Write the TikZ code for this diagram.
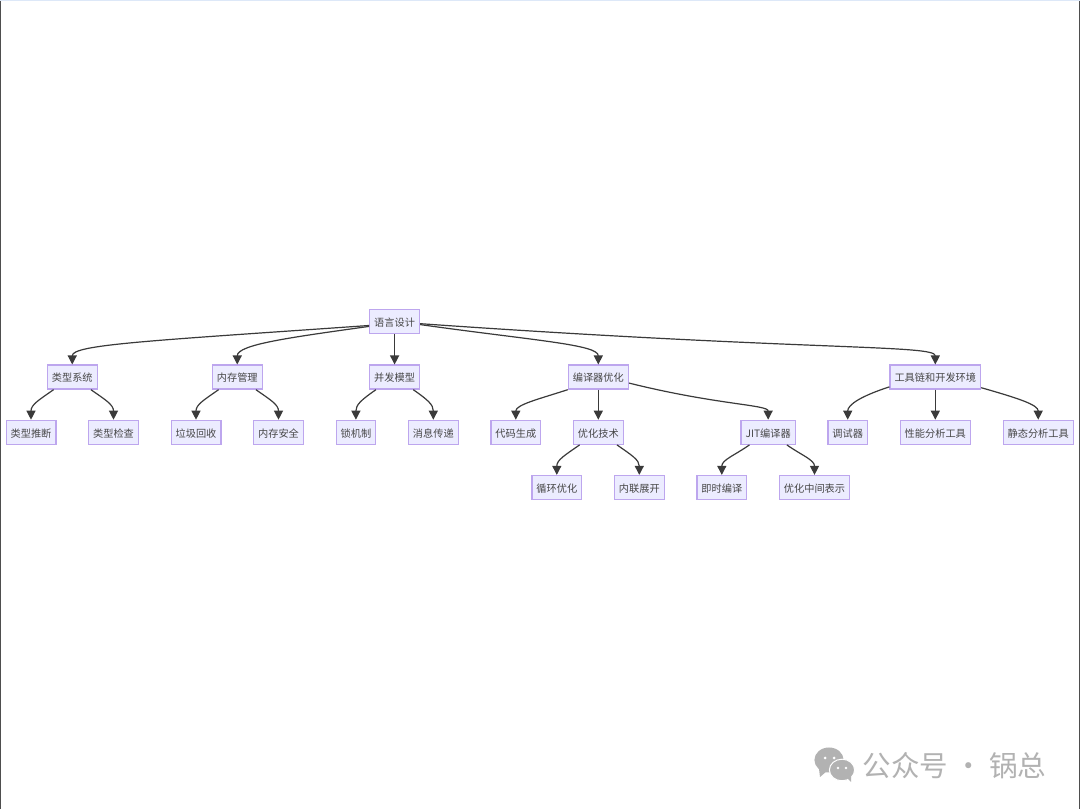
\documentclass[tikz,border=0pt]{standalone}
\usepackage{fontspec}
\setmainfont{Noto Sans CJK SC}
\usepackage{xcolor}
\usetikzlibrary{arrows.meta, positioning, calc}
\definecolor{boxfill}{HTML}{ECECFF}
\definecolor{boxline}{HTML}{BDA6EE}
\definecolor{inkline}{HTML}{3A3A3A}
\definecolor{markgray}{HTML}{B2B2B2}
\definecolor{topline}{HTML}{DDE8F8}

\begin{document}
\begin{tikzpicture}[
        x=1pt, y=1pt,
        node distance=30pt and 31.5pt,
        box/.style={rectangle, draw=boxline, fill=boxfill, line width=1.2pt, minimum height=24pt, inner xsep=4.5pt, inner ysep=0pt, text height=9.5pt, text depth=0pt, text=black!72, font=\fontsize{10.2}{12}\selectfont},
        arrowline/.style={-{Triangle[length=9pt, width=9pt]}, line width=1.2pt, draw=inkline},
        farleft/.style={out=#1, in=90, in distance=20pt},
        sidestep/.style={out=#1, in=90, out distance=18pt, in distance=15pt}
    ]
        \useasboundingbox (0,0) rectangle (1080,809);
        \fill[white] (0,0) rectangle (1080,809);
        \draw[inkline!90, line width=1.5pt] (0.4,0) -- (0.4,809);
        \draw[inkline!90, line width=1.5pt] (1079.6,0) -- (1079.6,809);
        \draw[topline, line width=1.2pt] (0,808.5) -- (1080,808.5);

        \node[box] (infer) at (31,376.7) {类型推断};
        \node[box, right=of infer] (check) {类型检查};
        \node[box, right=of check] (gc) {垃圾回收};
        \node[box, right=of gc] (safe) {内存安全};
        \node[box, right=of safe] (lock) {锁机制};
        \node[box, right=of lock] (msg) {消息传递};
        \node[box, right=of msg] (codegen) {代码生成};
        \node[box, right=of codegen] (tech) {优化技术};
        \node[box, below=of tech, xshift=-41.5pt] (loop) {循环优化};
        \node[box, right=of loop] (inline) {内联展开};
        \node[box, right=of inline] (jitrun) {即时编译};
        \node[box, right=of jitrun] (ir) {优化中间表示};
        \node[box, above=of $(jitrun.north)!0.5!(ir.north)$] (jit) {JIT编译器};
        \node[box, right=of jit] (debug) {调试器};
        \node[box, right=of debug] (perf) {性能分析工具};
        \node[box, right=of perf] (static) {静态分析工具};

        \node[box, above=of $(infer.north)!0.5!(check.north)$] (types) {类型系统};
        \node[box, above=of $(gc.north)!0.5!(safe.north)$] (memory) {内存管理};
        \node[box, above=of $(lock.north)!0.5!(msg.north)$] (conc) {并发模型};
        \node[box, above=of tech] (compiler) {编译器优化};
        \node[box, above=of perf] (tools) {工具链和开发环境};
        \node[box, above=of conc] (lang) {语言设计};

        \draw[arrowline] (lang.188) to[farleft=184, out distance=220pt] (types.north);
        \draw[arrowline] (lang.190) to[farleft=188, out distance=80pt] (memory.north);
        \draw[arrowline] (lang) -- (conc);
        \draw[arrowline] (lang.-6) to[farleft=-8, out distance=115pt] (compiler.north);
        \draw[arrowline] (lang.-4) to[farleft=-4, out distance=390pt] (tools.north);

        \draw[arrowline] (types.214) to[sidestep=215] (infer.north);
        \draw[arrowline] (types.-34) to[sidestep=-35] (check.north);
        \draw[arrowline] (memory.214) to[sidestep=215] (gc.north);
        \draw[arrowline] (memory.-34) to[sidestep=-35] (safe.north);
        \draw[arrowline] (conc.214) to[sidestep=215] (lock.north);
        \draw[arrowline] (conc.-34) to[sidestep=-35] (msg.north);

        \draw[arrowline] (compiler.south west) to[sidestep=198, out distance=30pt] (codegen.north);
        \draw[arrowline] (compiler) -- (tech);
        \draw[arrowline] (compiler.-11) to[sidestep=-14, out distance=90pt] (jit.north);
        \draw[arrowline] (tech.214) to[sidestep=215] (loop.north);
        \draw[arrowline] (tech.-34) to[sidestep=-35] (inline.north);
        \draw[arrowline] (jit.214) to[sidestep=215] (jitrun.north);
        \draw[arrowline] (jit.-34) to[sidestep=-35] (ir.north);

        \draw[arrowline] (tools.192) to[sidestep=198, out distance=30pt] (debug.north);
        \draw[arrowline] (tools) -- (perf);
        \draw[arrowline] (tools.-13) to[sidestep=-16, out distance=38pt] (static.north);

        \fill[markgray] (829,49) ellipse (14.6 and 12.5);
        \fill[markgray] (819,40) -- (820,32) -- (827,38) -- cycle;
        \fill[markgray, draw=white, line width=1pt] (842,39) ellipse (12.6 and 10.8);
        \fill[markgray] (847,31) -- (851,27) -- (851,33) -- cycle;
        \fill[white] (825,51) circle (1.5) (834,51) circle (1.5) (838,41) circle (1.3) (846,41) circle (1.3);
        \node[text=markgray, font=\fontsize{28.5}{32}\selectfont, inner sep=0pt] (mark) at (954.5,43) {公众号 · 锅总};
    \end{tikzpicture}
\end{document}
